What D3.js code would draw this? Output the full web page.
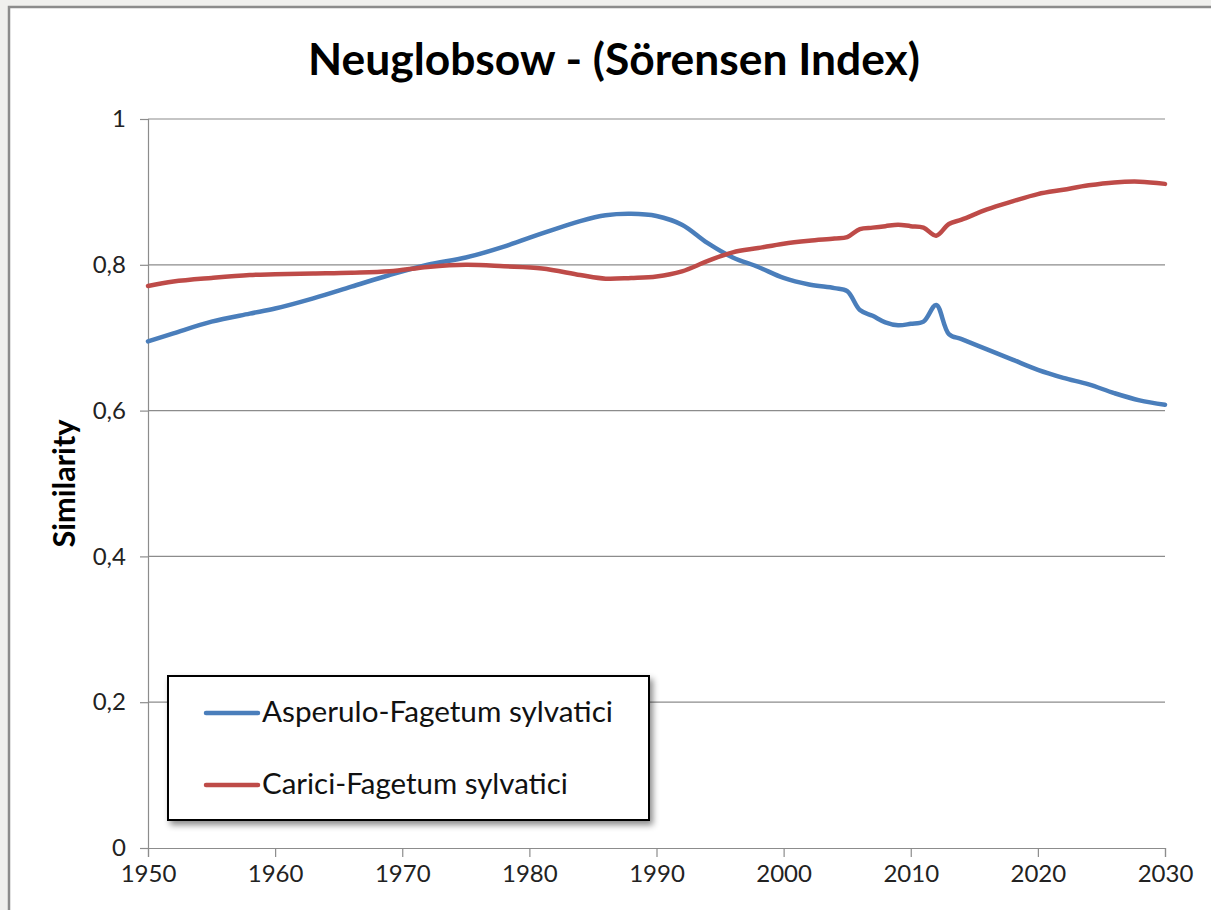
<!DOCTYPE html>
<html>
<head>
<meta charset="utf-8">
<script src="https://cdn.jsdelivr.net/npm/d3@7"></script>
<style>
  html, body { margin: 0; padding: 0; background: #f0f0ee; }
  svg { display: block; }
  text { font-family: Lato, "Open Sans", sans-serif; }
</style>
</head>
<body>
<svg id="svg"></svg>
<script>
// data
const years = [1950, 1952, 1955, 1958, 1960, 1963, 1966, 1969, 1972, 1975, 1978, 1981, 1984, 1986, 1988,
  1990, 1992, 1994, 1996, 1998, 2000, 2002, 2004, 2005, 2006, 2007, 2008, 2009, 2010, 2011, 2012,
  2013, 2014, 2016, 2018, 2020, 2022, 2024, 2026, 2028, 2030];
const asperulo = [0.695, 0.706, 0.722, 0.733, 0.740, 0.754, 0.770, 0.786, 0.800, 0.810, 0.825, 0.843, 0.860, 0.868, 0.870,
  0.867, 0.855, 0.830, 0.810, 0.797, 0.782, 0.773, 0.768, 0.764, 0.738, 0.730, 0.721, 0.717, 0.719, 0.722, 0.745,
  0.705, 0.698, 0.684, 0.670, 0.656, 0.645, 0.636, 0.624, 0.614, 0.608];
const carici = [0.771, 0.777, 0.782, 0.786, 0.787, 0.788, 0.789, 0.791, 0.797, 0.800, 0.798, 0.795, 0.786, 0.781, 0.782,
  0.784, 0.791, 0.805, 0.817, 0.823, 0.829, 0.833, 0.836, 0.838, 0.849, 0.851, 0.853, 0.855, 0.853, 0.851, 0.840,
  0.856, 0.862, 0.876, 0.887, 0.897, 0.903, 0.909, 0.913, 0.914, 0.911];
const seriesNames = ["Asperulo-Fagetum sylvatici", "Carici-Fagetum sylvatici"];
const seriesColors = ["#4a7ebb", "#be4b48"];
const yTicks = [0, 0.2, 0.4, 0.6, 0.8, 1];
const xTicks = [1950, 1960, 1970, 1980, 1990, 2000, 2010, 2020, 2030];

const svgWidth = 1211;
const svgHeight = 910;
const plot = { left: 148, right: 1165, top: 119, bottom: 848 };

const svg = d3.select("#svg")
  .attr("width", svgWidth)
  .attr("height", svgHeight);

// shadow for the legend box
const defs = svg.append("defs");
const shadow = defs.append("filter").attr("id", "shadow")
  .attr("x", "-10%").attr("y", "-10%").attr("width", "130%").attr("height", "140%");
shadow.append("feDropShadow")
  .attr("dx", 3).attr("dy", 4).attr("stdDeviation", 3)
  .attr("flood-color", "#000").attr("flood-opacity", 0.45);

// chart area
svg.append("rect")
  .attr("x", 9).attr("y", 7)
  .attr("width", svgWidth + 10).attr("height", svgHeight + 10)
  .attr("fill", "#fff")
  .attr("stroke", "#8c8c8c")
  .attr("stroke-width", 2.5);

const x = d3.scaleLinear().domain([1950, 2030]).range([plot.left, plot.right]);
const y = d3.scaleLinear().domain([0, 1]).range([plot.bottom, plot.top]);

const locale = d3.formatLocale({ decimal: ",", thousands: ".", grouping: [3], currency: ["", "€"] });
const fmtY = d => d === 0 || d === 1 ? String(d) : locale.format(".1f")(d);

// gridlines
svg.append("g")
  .selectAll("line")
  .data(yTicks.filter(d => d > 0))
  .enter()
  .append("line")
  .attr("x1", plot.left).attr("x2", plot.right)
  .attr("y1", d => y(d)).attr("y2", d => y(d))
  .attr("stroke", "#8c8c8c")
  .attr("stroke-width", 1.2);

// y axis
const yAxis = svg.append("g")
  .attr("transform", "translate(" + plot.left + ",0)")
  .call(d3.axisLeft(y).tickValues(yTicks).tickFormat(fmtY).tickSize(8).tickPadding(14));
yAxis.select(".domain").attr("stroke", "#8c8c8c").attr("stroke-width", 1.2);
yAxis.selectAll(".tick line").attr("stroke", "#8c8c8c").attr("stroke-width", 1.2);
yAxis.selectAll(".tick text")
  .attr("fill", "#222")
  .style("font-size", "24px")
  .style("font-family", "Lato, sans-serif");

// x axis
const xAxis = svg.append("g")
  .attr("transform", "translate(0," + plot.bottom + ")")
  .call(d3.axisBottom(x).tickValues(xTicks).tickFormat(d3.format("d")).tickSize(9).tickPadding(8));
xAxis.select(".domain").attr("stroke", "#8c8c8c").attr("stroke-width", 1.2);
xAxis.selectAll(".tick line").attr("stroke", "#8c8c8c").attr("stroke-width", 1.2);
xAxis.selectAll(".tick text")
  .attr("fill", "#222")
  .style("font-size", "24px")
  .style("font-family", "Lato, sans-serif");

// lines
const line = d3.line()
  .x(d => x(d[0]))
  .y(d => y(d[1]))
  .curve(d3.curveCatmullRom.alpha(0.5));

[asperulo, carici].forEach((vals, i) => {
  svg.append("path")
    .datum(years.map((yr, j) => [yr, vals[j]]))
    .attr("d", line)
    .attr("fill", "none")
    .attr("stroke", seriesColors[i])
    .attr("stroke-width", 4.5)
    .attr("stroke-linejoin", "round")
    .attr("stroke-linecap", "round");
});

// fit a text element to a target width
function fitText(sel, width) {
  const w = sel.node().getComputedTextLength();
  const fs = parseFloat(sel.style("font-size"));
  sel.style("font-size", (fs * width / w) + "px");
}

// title
const title = svg.append("text")
  .attr("x", 614).attr("y", 75)
  .attr("text-anchor", "middle")
  .attr("font-weight", "bold")
  .attr("fill", "#000")
  .style("font-size", "44px")
  .text("Neuglobsow - (Sörensen Index)");
fitText(title, 612);

// y label
const yLabel = svg.append("text")
  .attr("transform", "translate(75," + ((plot.top + plot.bottom) / 2) + ") rotate(-90)")
  .attr("text-anchor", "middle")
  .attr("font-weight", "bold")
  .attr("fill", "#000")
  .style("font-size", "24px")
  .text("Similarity");
fitText(yLabel, 128);

// legend
const legend = svg.append("g");
legend.append("rect")
  .attr("x", 168).attr("y", 676)
  .attr("width", 481).attr("height", 144)
  .attr("fill", "#fff")
  .attr("stroke", "#000")
  .attr("stroke-width", 2)
  .attr("filter", "url(#shadow)");

seriesNames.forEach((name, i) => {
  const ly = 713 + i * 72;
  legend.append("line")
    .attr("x1", 206).attr("x2", 258)
    .attr("y1", ly).attr("y2", ly)
    .attr("stroke", seriesColors[i])
    .attr("stroke-width", 4.5)
    .attr("stroke-linecap", "round");
  const t = legend.append("text")
    .attr("x", 262).attr("y", ly + 9)
    .attr("fill", "#111")
    .style("font-size", "26px")
    .text(name);
  fitText(t, i === 0 ? 351 : 306);
});
</script>
</body>
</html>
